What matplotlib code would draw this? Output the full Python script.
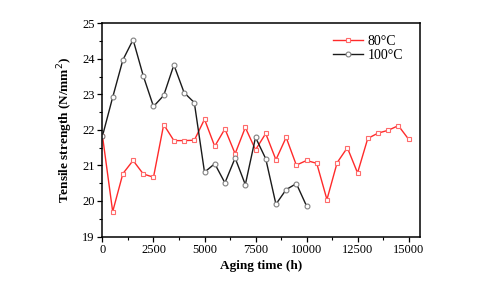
import numpy as np
import matplotlib
matplotlib.use("Agg")
import matplotlib.pyplot as plt
from matplotlib.ticker import MultipleLocator


# aging time in hours, one sample every 500 h
time_80 = np.arange(0, 15001, 500)
time_100 = np.arange(0, 10001, 500)

strength_80 = [21.83, 19.70, 20.77, 21.14, 20.76, 20.67, 22.15, 21.70, 21.70, 21.71,
               22.30, 21.54, 22.03, 21.33, 22.07, 21.44, 21.90, 21.16, 21.79, 21.01,
               21.14, 21.06, 20.04, 21.08, 21.50, 20.79, 21.76, 21.91, 21.99, 22.12,
               21.74]
strength_100 = [21.83, 22.92, 23.97, 24.54, 23.52, 22.66, 22.97, 23.83, 23.05, 22.77,
                20.81, 21.05, 20.51, 21.21, 20.46, 21.79, 21.19, 19.91, 20.32, 20.49,
                19.86]

labels = ["80\u00b0C", "100\u00b0C"]


def main():
    plt.rcParams['font.family'] = ['Liberation Serif', 'DejaVu Serif']
    fig = plt.figure(figsize=(4.8, 2.92), dpi=100)
    ax = fig.add_axes([0.2135, 0.19, 0.875 - 0.2135, 0.92 - 0.19])

    ax.plot(time_80, strength_80, color='#ff2a2a', lw=1.0, marker='s', ms=3.5,
            mfc='white', mec='#ff6b6b', mew=0.8, label=labels[0])
    ax.plot(time_100, strength_100, color='#1a1a1a', lw=1.0, marker='o', ms=3.5,
            mfc='white', mec='#808080', mew=0.8, label=labels[1])

    ax.set_xlim(0, 15560)
    ax.set_ylim(19, 25)
    ax.xaxis.set_major_locator(MultipleLocator(2500))
    ax.xaxis.set_minor_locator(MultipleLocator(1250))
    ax.yaxis.set_major_locator(MultipleLocator(1))
    ax.yaxis.set_minor_locator(MultipleLocator(0.5))
    ax.tick_params(which='major', direction='out', length=3.5, width=0.9, labelsize=9, pad=2)
    ax.tick_params(which='minor', direction='out', length=2, width=0.8)
    for s in ax.spines.values():
        s.set_linewidth(1.1)

    ax.set_xlabel("Aging time (h)", fontsize=9.5, fontweight='bold', labelpad=3)
    ax.set_ylabel("Tensile strength (N/mm$^2$)", fontsize=9.5, fontweight='bold', labelpad=5)

    ax.legend(loc='upper right', frameon=False, fontsize=10, handlelength=2.2,
              handletextpad=0.3, labelspacing=0.1, bbox_to_anchor=(0.985, 1.005))

    fig.savefig("out.png", dpi=100)


if __name__ == "__main__":
    main()
